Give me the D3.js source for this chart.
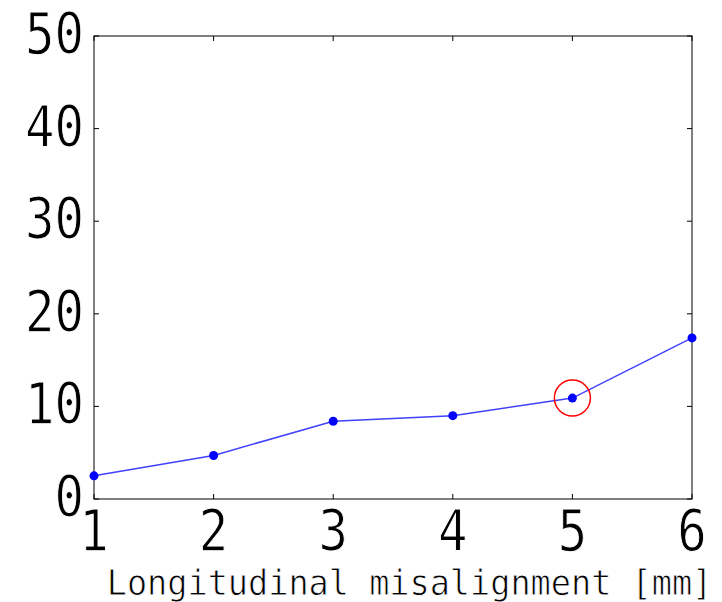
<!DOCTYPE html>
<html>
<head>
<meta charset="utf-8">
<script src="https://cdn.jsdelivr.net/npm/d3@7"></script>
<style>
  body { margin: 0; background: #fff; }
  svg { display: block; }
</style>
</head>
<body>
<svg id="chart"></svg>
<script>
// data
const xValues = [1, 2, 3, 4, 5, 6];
const yValues = [2.5, 4.7, 8.4, 9.0, 10.9, 17.4];
const highlightX = 5;
const xTicks = [1, 2, 3, 4, 5, 6];
const yTicks = [0, 10, 20, 30, 40, 50];
const xLabel = 'Longitudinal misalignment [mm]';

// drawing constants
const W = 722, H = 602;
const LEFT = 94, RIGHT = 692, TOP = 36, BOTTOM = 499;
const FONT = '"DejaVu Sans Mono", monospace';
const TICK_FS = 57, TICK_SX = 0.86;   // narrow tall digits
const LABEL_FS = 35.5, LABEL_SX = 0.945;

const svg = d3.select('#chart')
  .attr('width', W)
  .attr('height', H)
  .attr('font-family', FONT);

const x = d3.scaleLinear().domain([1, 6]).range([LEFT, RIGHT]);
const y = d3.scaleLinear().domain([0, 50]).range([BOTTOM, TOP]);

// frame
svg.append('rect')
  .attr('x', LEFT).attr('y', TOP)
  .attr('width', RIGHT - LEFT).attr('height', BOTTOM - TOP)
  .attr('fill', 'none').attr('stroke', '#000').attr('stroke-width', 1);

// inward ticks on all four sides
const TICK = 5;
const tickG = svg.append('g').attr('stroke', '#000').attr('stroke-width', 1);
xTicks.forEach(t => {
  tickG.append('line').attr('x1', x(t)).attr('x2', x(t)).attr('y1', BOTTOM).attr('y2', BOTTOM - TICK);
  tickG.append('line').attr('x1', x(t)).attr('x2', x(t)).attr('y1', TOP).attr('y2', TOP + TICK);
});
yTicks.forEach(t => {
  tickG.append('line').attr('x1', LEFT).attr('x2', LEFT + TICK).attr('y1', y(t)).attr('y2', y(t));
  tickG.append('line').attr('x1', RIGHT).attr('x2', RIGHT - TICK).attr('y1', y(t)).attr('y2', y(t));
});

// tick labels (thin white outline lightens the heavy glyphs)
svg.append('g').selectAll('text').data(xTicks).join('text')
  .attr('transform', d => `translate(${x(d)},551) scale(${TICK_SX},1)`)
  .attr('text-anchor', 'middle')
  .attr('font-size', TICK_FS)
  .attr('stroke', '#fff')
  .attr('stroke-width', 1)
  .text(d => d);

svg.append('g').selectAll('text').data(yTicks).join('text')
  .attr('transform', d => `translate(${LEFT - 10},${y(d) + 18}) scale(${TICK_SX},1)`)
  .attr('text-anchor', 'end')
  .attr('font-size', TICK_FS)
  .attr('stroke', '#fff')
  .attr('stroke-width', 1)
  .text(d => d);

// axis label
svg.append('text')
  .attr('transform', `translate(409.5,595) scale(${LABEL_SX},1)`)
  .attr('text-anchor', 'middle')
  .attr('font-size', LABEL_FS)
  .attr('stroke', '#fff')
  .attr('stroke-width', 0.8)
  .text(xLabel);

// line + markers
const pts = xValues.map((v, i) => [v, yValues[i]]);
svg.append('path')
  .datum(pts)
  .attr('fill', 'none')
  .attr('stroke', '#0000ff')
  .attr('stroke-opacity', 0.75)
  .attr('stroke-width', 1.5)
  .attr('d', d3.line().x(d => x(d[0])).y(d => y(d[1])));

svg.append('g').selectAll('circle').data(pts).join('circle')
  .attr('cx', d => x(d[0]))
  .attr('cy', d => y(d[1]))
  .attr('r', 4.5)
  .attr('fill', '#0000ff');

// highlight ring
const hi = pts.find(d => d[0] === highlightX);
svg.append('circle')
  .attr('cx', x(hi[0])).attr('cy', y(hi[1]))
  .attr('r', 18)
  .attr('fill', 'none')
  .attr('stroke', '#ff0000')
  .attr('stroke-width', 1.5);
</script>
</body>
</html>
